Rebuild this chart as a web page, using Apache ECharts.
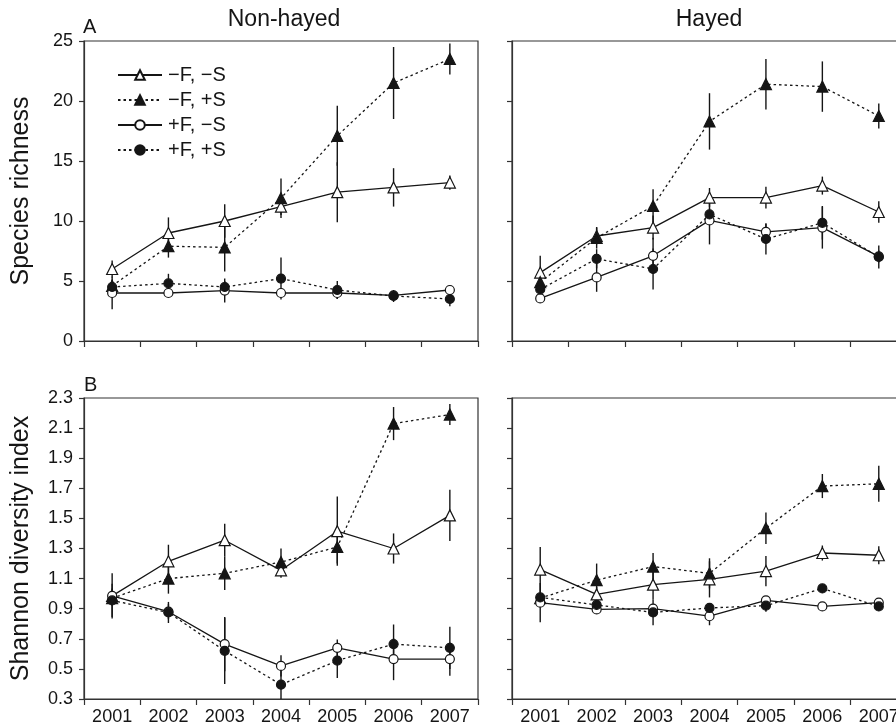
<!DOCTYPE html>
<html>
<head>
<meta charset="utf-8">
<script src="https://cdn.jsdelivr.net/npm/echarts@6/dist/echarts.min.js"></script>
<style>html,body{margin:0;padding:0;background:#fff;overflow:hidden;}#c{width:912px;height:728px;}</style>
</head>
<body>
<div id="c"></div>
<script>
// ---- data ----
const years = ['2001', '2002', '2003', '2004', '2005', '2006', '2007'];
const treatments = ['\u2212F, \u2212S', '\u2212F, +S', '+F, \u2212S', '+F, +S'];
const panelTitles = ['Non-hayed', 'Hayed'];
const richnessTicks = [0, 25, 5];
const shannonTicks = [0.3, 2.3, 0.2];

// Species richness, non-hayed
const rNH_mFmS = [6.0, 9.0, 10.0, 11.2, 12.4, 12.8, 13.2];
const rNH_mFmS_se = [0.7, 1.3, 1.4, 0.7, 2.5, 1.6, 0.6];
const rNH_mFpS = [4.6, 7.9, 7.8, 11.9, 17.1, 21.5, 23.5];
const rNH_mFpS_se = [0.5, 0.95, 2.0, 1.65, 2.5, 3.0, 1.3];
const rNH_pFmS = [4.0, 4.0, 4.2, 4.0, 4.0, 3.8, 4.25];
const rNH_pFmS_se = [1.35, 0.3, 1.0, 0.3, 0.5, 0.4, 0.4];
const rNH_pFpS = [4.5, 4.8, 4.5, 5.2, 4.25, 3.75, 3.5];
const rNH_pFpS_se = [0.5, 0.8, 0.5, 1.75, 0.75, 0.5, 0.6];

// Species richness, hayed
const rH_mFmS = [5.7, 8.75, 9.45, 11.95, 11.95, 12.95, 10.75];
const rH_mFmS_se = [1.4, 0.7, 1.0, 0.8, 0.9, 0.75, 0.9];
const rH_mFpS = [4.9, 8.6, 11.25, 18.3, 21.4, 21.2, 18.75];
const rH_mFpS_se = [0.6, 0.9, 1.4, 2.35, 2.1, 2.1, 1.05];
const rH_pFmS = [3.55, 5.3, 7.1, 10.05, 9.1, 9.45, 7.05];
const rH_pFmS_se = [0.3, 1.2, 1.5, 2.0, 0.7, 1.75, 0.5];
const rH_pFpS = [4.3, 6.85, 6.0, 10.55, 8.5, 9.85, 7.0];
const rH_pFpS_se = [0.5, 0.8, 1.7, 0.5, 1.3, 1.4, 0.95];

// Shannon diversity, non-hayed
const sNH_mFmS = [0.985, 1.215, 1.355, 1.155, 1.415, 1.30, 1.52];
const sNH_mFmS_se = [0.15, 0.11, 0.11, 0.05, 0.23, 0.1, 0.17];
const sNH_mFpS = [0.97, 1.10, 1.135, 1.21, 1.31, 2.13, 2.19];
const sNH_mFpS_se = [0.05, 0.1, 0.11, 0.09, 0.11, 0.11, 0.07];
const sNH_pFmS = [0.985, 0.88, 0.665, 0.52, 0.64, 0.565, 0.565];
const sNH_pFmS_se = [0.05, 0.05, 0.18, 0.07, 0.055, 0.14, 0.11];
const sNH_pFpS = [0.955, 0.875, 0.62, 0.395, 0.555, 0.665, 0.64];
const sNH_pFpS_se = [0.11, 0.07, 0.22, 0.1, 0.115, 0.13, 0.14];

// Shannon diversity, hayed
const sH_mFmS = [1.16, 0.995, 1.06, 1.095, 1.15, 1.27, 1.255];
const sH_mFmS_se = [0.15, 0.05, 0.1, 0.12, 0.1, 0.05, 0.06];
const sH_mFpS = [0.97, 1.09, 1.18, 1.135, 1.435, 1.715, 1.73];
const sH_mFpS_se = [0.03, 0.11, 0.09, 0.1, 0.105, 0.08, 0.12];
const sH_pFmS = [0.94, 0.895, 0.9, 0.85, 0.955, 0.915, 0.94];
const sH_pFmS_se = [0.13, 0.03, 0.03, 0.06, 0.03, 0.02, 0.02];
const sH_pFpS = [0.975, 0.925, 0.875, 0.905, 0.92, 1.035, 0.915];
const sH_pFpS_se = [0.03, 0.03, 0.085, 0.03, 0.04, 0.03, 0.02];

// ---- build ----
const FONT = 'Liberation Sans, Arial, Helvetica, sans-serif';
const INK = '#151515';
const AX = '#333';

const panels = [
  { means: [rNH_mFmS, rNH_mFpS, rNH_pFmS, rNH_pFpS], ses: [rNH_mFmS_se, rNH_mFpS_se, rNH_pFmS_se, rNH_pFpS_se] },
  { means: [rH_mFmS, rH_mFpS, rH_pFmS, rH_pFpS], ses: [rH_mFmS_se, rH_mFpS_se, rH_pFmS_se, rH_pFpS_se] },
  { means: [sNH_mFmS, sNH_mFpS, sNH_pFmS, sNH_pFpS], ses: [sNH_mFmS_se, sNH_mFpS_se, sNH_pFmS_se, sNH_pFpS_se] },
  { means: [sH_mFmS, sH_mFpS, sH_pFmS, sH_pFpS], ses: [sH_mFmS_se, sH_mFpS_se, sH_pFmS_se, sH_pFpS_se] }
];

const styles = [
  { symbol: 'triangle', size: 11, fill: '#fff', dash: 'solid' },
  { symbol: 'triangle', size: 11, fill: INK, dash: [2.5, 3] },
  { symbol: 'circle', size: 9, fill: '#fff', dash: 'solid' },
  { symbol: 'circle', size: 9, fill: INK, dash: [2.5, 3] }
];

const grids = [
  { left: 84, top: 41, width: 394, height: 300 },
  { left: 512, top: 41, width: 395, height: 300 },
  { left: 84, top: 398, width: 394, height: 301 },
  { left: 512, top: 398, width: 395, height: 301 }
].map(g => Object.assign(g, { show: true, borderColor: AX, borderWidth: 1.2, backgroundColor: 'transparent', containLabel: false }));

const xAxis = grids.map((g, i) => ({
  type: 'category', gridIndex: i, data: years, boundaryGap: true,
  axisLine: { show: true, lineStyle: { color: AX, width: 1.2 } },
  axisTick: { show: true, length: 6, lineStyle: { color: AX, width: 1.2 } },
  axisLabel: { show: i >= 2, fontSize: 18, color: INK, fontFamily: FONT, margin: 9 },
  splitLine: { show: false }
}));

const yAxis = grids.map((g, i) => {
  const t = i < 2 ? richnessTicks : shannonTicks;
  const o = {
    type: 'value', gridIndex: i, min: t[0], max: t[1], interval: t[2],
    axisLine: { show: true, lineStyle: { color: AX, width: 1.2 } },
    axisTick: { show: true, length: 5, lineStyle: { color: AX, width: 1.2 } },
    axisLabel: {
      show: i % 2 === 0, fontSize: 18, color: INK, fontFamily: FONT, margin: 11,
      formatter: v => i < 2 ? String(Math.round(v)) : v.toFixed(1)
    },
    splitLine: { show: false }
  };
  if (i === 0) Object.assign(o, { name: 'Species richness', nameLocation: 'middle', nameGap: 50, nameTextStyle: { fontSize: 25, color: INK, fontFamily: FONT } });
  if (i === 2) Object.assign(o, { name: 'Shannon diversity index', nameLocation: 'middle', nameGap: 50, nameTextStyle: { fontSize: 25, color: INK, fontFamily: FONT } });
  return o;
});

const series = [];
panels.forEach((p, gi) => {
  // error bars first (beneath markers)
  p.means.forEach((m, k) => {
    series.push({
      type: 'custom', name: 'se' + gi + k, xAxisIndex: gi, yAxisIndex: gi, z: 2, clip: true,
      silent: true,
      data: m.map((v, j) => [j, v - p.ses[k][j], v + p.ses[k][j]]),
      renderItem: (params, api) => {
        const a = api.coord([api.value(0), api.value(1)]);
        const b = api.coord([api.value(0), api.value(2)]);
        return { type: 'line', shape: { x1: a[0], y1: a[1], x2: b[0], y2: b[1] }, style: { stroke: INK, lineWidth: 1.4 } };
      }
    });
  });
  p.means.forEach((m, k) => {
    const s = styles[k];
    series.push({
      type: 'line', name: treatments[k], xAxisIndex: gi, yAxisIndex: gi, z: 3 + k,
      data: m, symbol: s.symbol, symbolSize: s.size, showAllSymbol: true,
      lineStyle: { color: INK, width: 1.3, type: s.dash },
      itemStyle: { color: s.fill, borderColor: INK, borderWidth: 1.2 },
      emphasis: { disabled: true }, silent: true
    });
  });
});

const option = {
  animation: false,
  backgroundColor: '#fff',
  grid: grids, xAxis, yAxis, series,
  legend: {
    data: treatments, orient: 'vertical', left: 112, top: 60,
    itemWidth: 44, itemHeight: 12, itemGap: 5,
    textStyle: { fontSize: 20, color: INK, fontFamily: FONT, padding: [0, 0, 0, 1] },
    selectedMode: false
  },
  graphic: [
    { type: 'text', x: 284, y: 20, style: { text: panelTitles[0], font: '23px ' + FONT, fill: INK, textAlign: 'center', textVerticalAlign: 'middle' } },
    { type: 'text', x: 709, y: 20, style: { text: panelTitles[1], font: '23px ' + FONT, fill: INK, textAlign: 'center', textVerticalAlign: 'middle' } },
    { type: 'text', x: 83, y: 27, style: { text: 'A', font: '20px ' + FONT, fill: INK, textAlign: 'left', textVerticalAlign: 'middle' } },
    { type: 'text', x: 84, y: 385, style: { text: 'B', font: '20px ' + FONT, fill: INK, textAlign: 'left', textVerticalAlign: 'middle' } }
  ]
};

const chart = echarts.init(document.getElementById('c'), null, { renderer: 'canvas' });
chart.setOption(option);
</script>
</body>
</html>
